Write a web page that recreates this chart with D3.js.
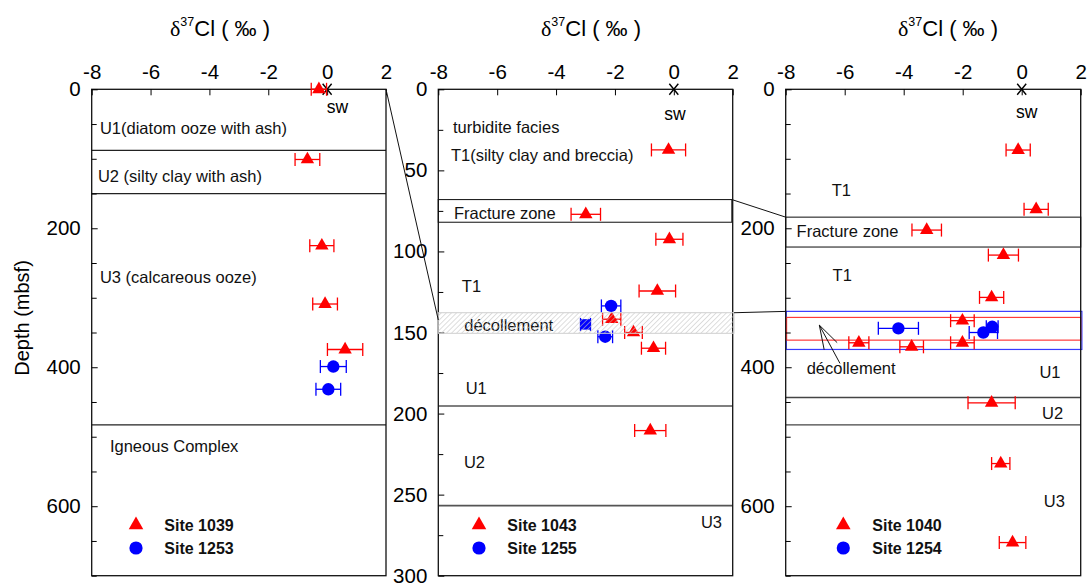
<!DOCTYPE html>
<html>
<head>
<meta charset="utf-8">
<script src="https://cdn.jsdelivr.net/npm/d3@7"></script>
<style>
  body { margin: 0; background: #fff; }
  svg { display: block; font-family: "Liberation Sans", Arial, sans-serif; }
</style>
</head>
<body>
<svg id="chart" width="1088" height="584"></svg>
<script>
// ---- axis ticks ----
const xTicks = [-8, -6, -4, -2, 0, 2];
const deepMajor = [0, 200, 400, 600];
const deepMinor = [50, 100, 150, 250, 300, 350, 450, 500, 550, 650, 700];
const shallowMajor = [0, 50, 100, 150, 200, 250, 300];
const shallowMinor = [25, 75, 125, 175, 225, 275];

// ---- δ37Cl (‰) vs depth (mbsf), with ±error ----
const site1039 = [
  { v: -0.28, z: 0,     e: 0.26 },
  { v: -0.67, z: 101,   e: 0.42 },
  { v: -0.18, z: 225,   e: 0.41 },
  { v: -0.07, z: 309,   e: 0.42 },
  { v:  0.61, z: 374.5, e: 0.60 }
];
const site1253 = [
  { v: 0.21, z: 399,   e: 0.44 },
  { v: 0.04, z: 431.7, e: 0.42 }
];
const site1043 = [
  { v: -0.18, z: 37.4,  e: 0.58 },
  { v: -2.99, z: 77.1,  e: 0.50 },
  { v: -0.15, z: 92.5,  e: 0.46 },
  { v: -0.56, z: 124.4, e: 0.62 },
  { v: -2.11, z: 141.8, e: 0.31 },
  { v: -1.37, z: 150,   e: 0.30 },
  { v: -0.69, z: 159.7, e: 0.41 },
  { v: -0.80, z: 210.5, e: 0.53 }
];
const site1255 = [
  { v: -2.13, z: 133.6, e: 0.33 },
  { v: -2.33, z: 152.6, e: 0.25 }
];
const site1255Zone = [
  { v: -3.0, z: 145, e: 0.17 }
];
const site1040 = [
  { v: -0.12, z: 87.4,  e: 0.41 },
  { v:  0.49, z: 172.8, e: 0.41 },
  { v: -3.22, z: 202.6, e: 0.50 },
  { v: -0.62, z: 238.6, e: 0.51 },
  { v: -1.02, z: 299.5, e: 0.41 },
  { v: -2.01, z: 333,   e: 0.40 },
  { v: -5.52, z: 364.8, e: 0.34 },
  { v: -3.73, z: 370.6, e: 0.40 },
  { v: -2.01, z: 364.8, e: 0.40 },
  { v: -1.02, z: 451.2, e: 0.80 },
  { v: -0.71, z: 538.6, e: 0.31 },
  { v: -0.31, z: 652.3, e: 0.45 }
];
const site1254 = [
  { v: -4.18, z: 344,   e: 0.68 },
  { v: -1.00, z: 341.8, e: 0.20 },
  { v: -1.30, z: 350,   e: 0.48 }
];

// ---- lithology ----
const boundaries1039 = [88, 150, 483];
const boundaries1043 = [195.3, 256.8];
const boundaries1040 = [443.5, 483];
const fracture1043 = [68, 82];
const fracture1040 = [184, 227];
const decollement1043 = [137.8, 150.5];
const decollementBlue = [319.6, 374.4];
const decollementRed = [328.3, 361];

const labels1039 = [
  ["U1(diatom ooze with ash)", -7.72, 55.7],
  ["U2 (silty clay with ash)", -7.79, 124.8],
  ["U3 (calcareous ooze)", -7.72, 270],
  ["Igneous Complex", -7.38, 514]
];
const labels1043 = [
  ["turbidite facies", -7.5, 23.1],
  ["T1(silty clay and breccia)", -7.57, 40.5],
  ["Fracture zone", -7.47, 76.5],
  ["T1", -7.2, 121.3],
  ["décollement", -7.12, 145.4],
  ["U1", -7.07, 184.4],
  ["U2", -7.13, 230],
  ["U3", 0.92, 267]
];
const labels1040 = [
  ["T1", -6.44, 145],
  ["Fracture zone", -7.63, 204],
  ["T1", -6.41, 267.4],
  ["décollement", -7.29, 401.7],
  ["U1", 0.6, 407.5],
  ["U2", 0.69, 466.5],
  ["U3", 0.75, 592.4]
];

const RED = "#ff0000", BLUE = "#0000ff";
const svg = d3.select("#chart");

// hatch pattern for the décollement band
const defs = svg.append("defs");
defs.append("pattern")
  .attr("id", "hatch").attr("patternUnits", "userSpaceOnUse")
  .attr("width", 3.6).attr("height", 3.6)
  .attr("patternTransform", "rotate(45)")
  .append("line")
  .attr("x1", 0).attr("y1", 0).attr("x2", 0).attr("y2", 3.6)
  .attr("stroke", "#c2c2c2").attr("stroke-width", 1.1);

const TOP = 89.3, BOTTOM = 575.7;

const panels = [
  { x0: 91.7, x1: 386, zMax: 700, major: deepMajor, minor: deepMinor,
    titleX: 220, sw: [0.35, 25.7],
    series: [{ data: site1039, color: RED, shape: "tri" }, { data: site1253, color: BLUE, shape: "circ" }],
    legend: ["Site 1039", "Site 1253"], legMark: 44.3, legText: 72.6,
    bounds: boundaries1039, boundColor: "#222", boundWidth: 1.2,
    labels: labels1039 },
  { x0: 438.3, x1: 732.7, zMax: 300, major: shallowMajor, minor: shallowMinor,
    titleX: 591, sw: [0.04, 15.4],
    series: [{ data: site1043, color: RED, shape: "tri" }, { data: site1255, color: BLUE, shape: "circ" },
             { data: site1255Zone, color: BLUE, shape: "sq" }],
    legend: ["Site 1043", "Site 1255"], legMark: 40.7, legText: 69,
    bounds: boundaries1043, boundColor: "#555", boundWidth: 1.6,
    labels: labels1043 },
  { x0: 785.7, x1: 1080.7, zMax: 700, major: deepMajor, minor: deepMinor,
    titleX: 948, sw: [0.17, 32.7],
    series: [{ data: site1040, color: RED, shape: "tri" }, { data: site1254, color: BLUE, shape: "circ" }],
    legend: ["Site 1040", "Site 1254"], legMark: 57.6, legText: 86.6,
    bounds: boundaries1040, boundColor: "#444", boundWidth: 1.4,
    labels: labels1040 }
];

const triPath = d3.symbol(d3.symbolTriangle, 78)();
const triLegend = d3.symbol(d3.symbolTriangle, 92)();
const sqPath = d3.symbol(d3.symbolSquare, 110)();

panels.forEach(p => {
  p.x = d3.scaleLinear().domain([-8, 2]).range([p.x0, p.x1]);
  p.y = d3.scaleLinear().domain([0, p.zMax]).range([TOP, BOTTOM]);
});

function styleAxis(g, size) {
  g.attr("font-family", null).attr("font-size", null);
  g.select(".domain").remove();
  g.selectAll(".tick line").attr("stroke", "#000").attr("stroke-width", 1);
  g.selectAll(".tick text").attr("fill", "#000").style("font-size", size + "px");
}

function drawSeriesMarks(g, p, s) {
  const x = p.x, y = p.y;
  const grp = g.append("g");
  const bars = grp.selectAll("g.err").data(s.data).join("g").attr("class", "err")
    .attr("stroke", s.color).attr("stroke-width", 1.3).attr("fill", "none");
  bars.append("line")
    .attr("x1", d => x(d.v - d.e)).attr("x2", d => x(d.v + d.e))
    .attr("y1", d => y(d.z)).attr("y2", d => y(d.z));
  bars.append("line")
    .attr("x1", d => x(d.v - d.e)).attr("x2", d => x(d.v - d.e))
    .attr("y1", d => y(d.z) - 6.5).attr("y2", d => y(d.z) + 6.5);
  bars.append("line")
    .attr("x1", d => x(d.v + d.e)).attr("x2", d => x(d.v + d.e))
    .attr("y1", d => y(d.z) - 6.5).attr("y2", d => y(d.z) + 6.5);
  if (s.shape === "circ") {
    grp.selectAll("circle").data(s.data).join("circle")
      .attr("cx", d => x(d.v)).attr("cy", d => y(d.z)).attr("r", 6.2).attr("fill", s.color);
  } else {
    grp.selectAll("path.mk").data(s.data).join("path").attr("class", "mk")
      .attr("d", s.shape === "tri" ? triPath : sqPath)
      .attr("transform", d => `translate(${x(d.v)},${y(d.z)})`).attr("fill", s.color);
  }
}

panels.forEach((p, i) => {
  const g = svg.append("g");
  const x = p.x, y = p.y;

  // layer boundaries
  g.selectAll("line.bound").data(p.bounds).join("line").attr("class", "bound")
    .attr("x1", x(-8)).attr("x2", x(2)).attr("y1", d => y(d)).attr("y2", d => y(d))
    .attr("stroke", p.boundColor).attr("stroke-width", p.boundWidth);

  // fracture zones and décollement boxes
  if (i === 1) {
    g.append("rect").attr("x", x(-8)).attr("y", y(fracture1043[0]))
      .attr("width", x(1.97) - x(-8)).attr("height", y(fracture1043[1]) - y(fracture1043[0]))
      .attr("fill", "none").attr("stroke", "#222").attr("stroke-width", 1.1);
  }
  if (i === 2) {
    g.append("rect").attr("x", x(-8)).attr("y", y(fracture1040[0]))
      .attr("width", x(2) - x(-8)).attr("height", y(fracture1040[1]) - y(fracture1040[0]))
      .attr("fill", "none").attr("stroke", "#222").attr("stroke-width", 1.1);
    g.append("rect").attr("x", x(-7.98)).attr("y", y(decollementBlue[0]))
      .attr("width", x(2.04) - x(-7.98)).attr("height", y(decollementBlue[1]) - y(decollementBlue[0]))
      .attr("fill", "none").attr("stroke", "#3a3aff").attr("stroke-width", 1.2);
    g.append("rect").attr("x", x(-7.97)).attr("y", y(decollementRed[0]))
      .attr("width", x(2.0) - x(-7.97)).attr("height", y(decollementRed[1]) - y(decollementRed[0]))
      .attr("fill", "none").attr("stroke", "#ff3a3a").attr("stroke-width", 1.2);
  }

  // plot frame
  g.append("rect").attr("x", x(-8)).attr("y", y(0))
    .attr("width", x(2) - x(-8)).attr("height", y(p.zMax) - y(0))
    .attr("fill", "none").attr("stroke", "#111").attr("stroke-width", 1.3);

  // axes (ticks pointing inward)
  g.append("g").attr("transform", `translate(0,${y(0)})`)
    .call(d3.axisTop(x).tickValues(xTicks).tickSize(-6).tickPadding(10).tickFormat(d => String(d)))
    .call(a => styleAxis(a, 20.5));
  g.append("g").attr("transform", `translate(${x(-8)},0)`)
    .call(d3.axisLeft(y).tickValues(p.major).tickSize(-6).tickPadding(11).tickFormat(d => String(d)))
    .call(a => styleAxis(a, 20.5));
  g.append("g").attr("transform", `translate(${x(-8)},0)`)
    .call(d3.axisLeft(y).tickValues(p.minor).tickSize(-5).tickFormat(""))
    .call(a => styleAxis(a, 20));

  // title
  const t = g.append("text").attr("x", p.titleX).attr("y", 36)
    .attr("text-anchor", "middle").style("font-size", "22px").attr("fill", "#000");
  t.append("tspan").style("font-family", "'Liberation Serif', 'DejaVu Serif', serif").text("δ");
  t.append("tspan").attr("dy", -10).style("font-size", "12.5px").text("37");
  t.append("tspan").attr("dy", 10).text("Cl ( ‰ )");

  // layer labels
  g.selectAll("text.lab").data(p.labels).join("text").attr("class", "lab")
    .attr("x", d => x(d[1])).attr("y", d => y(d[2]))
    .attr("dominant-baseline", "central")
    .style("font-size", "16.5px").attr("fill", "#111").text(d => d[0]);

  // seawater reference
  const swx = x(0), swy = y(0);
  g.append("path").attr("d", `M${swx - 4.5},${swy - 5.5}L${swx + 4.5},${swy + 5.5}M${swx + 4.5},${swy - 5.5}L${swx - 4.5},${swy + 5.5}`)
    .attr("stroke", "#000").attr("stroke-width", 1.4);
  g.append("text").attr("x", x(p.sw[0])).attr("y", y(p.sw[1]))
    .attr("text-anchor", "middle").attr("dominant-baseline", "central")
    .style("font-size", "17.5px").text("sw");

  // data
  p.series.forEach(s => drawSeriesMarks(g, p, s));

  // hatched décollement band over the data
  if (i === 1) {
    g.append("rect").attr("x", x(-8)).attr("y", y(decollement1043[0]))
      .attr("width", x(2.045) - x(-8)).attr("height", y(decollement1043[1]) - y(decollement1043[0]))
      .attr("fill", "url(#hatch)").attr("stroke", "#cfcfcf").attr("stroke-width", 1);
  }

  // décollement arrow
  if (i === 2) {
    const tip = [x(-6.86), y(339.4)], tail = [x(-6.16), y(394.5)];
    const ang = Math.atan2(tail[1] - tip[1], tail[0] - tip[0]);
    const arrow = d3.path();
    arrow.moveTo(tail[0], tail[1]); arrow.lineTo(tip[0], tip[1]);
    [-0.3, 0.3].forEach(da => {
      arrow.moveTo(tip[0], tip[1]);
      arrow.lineTo(tip[0] + 25 * Math.cos(ang + da), tip[1] + 25 * Math.sin(ang + da));
    });
    g.append("path").attr("d", arrow.toString()).attr("stroke", "#111").attr("stroke-width", 1).attr("fill", "none");
  }

  // legend
  const lx = p.x0 + p.legMark, tx = p.x0 + p.legText;
  const rows = [525, 548];
  g.append("path").attr("d", triLegend).attr("transform", `translate(${lx},${rows[0]})`).attr("fill", RED);
  g.append("circle").attr("cx", lx).attr("cy", rows[1]).attr("r", 6.6).attr("fill", BLUE);
  p.legend.forEach((name, k) => {
    g.append("text").attr("x", tx).attr("y", rows[k]).attr("dominant-baseline", "central")
      .style("font-size", "16px").style("font-weight", "bold").attr("fill", "#111").text(name);
  });
});

// y-axis title
svg.append("text").attr("transform", "translate(22,318) rotate(-90)")
  .attr("text-anchor", "middle").attr("dominant-baseline", "central")
  .style("font-size", "20px").attr("fill", "#000").text("Depth (mbsf)");

// zoom connectors between panels
const [L, M, R] = panels;
const connectors = [
  [[L.x(2), L.y(0)], [M.x(-8), M.y(142.3)]],
  [[M.x(1.97), M.y(fracture1043[0])], [R.x(-8), R.y(fracture1040[0])]],
  [[M.x(2.045), M.y(decollement1043[0])], [R.x(-7.98), R.y(decollementBlue[0])]]
];
svg.selectAll("line.conn").data(connectors).join("line").attr("class", "conn")
  .attr("x1", d => d[0][0]).attr("y1", d => d[0][1])
  .attr("x2", d => d[1][0]).attr("y2", d => d[1][1])
  .attr("stroke", "#111").attr("stroke-width", 1);
</script>
</body>
</html>
